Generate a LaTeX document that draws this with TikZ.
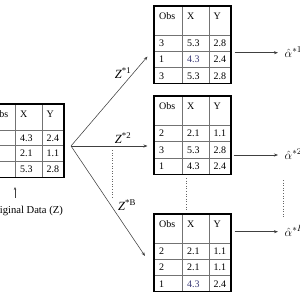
\documentclass[tikz,border=0pt]{standalone}
\usepackage{fontspec}
\setmainfont{Liberation Serif}
\usetikzlibrary{arrows.meta}
\definecolor{bluish}{RGB}{60,60,120}
\tikzset{
  tabframe/.style={draw=black, line width=1.1pt, inner sep=0pt, minimum width=77pt},
  tabinner/.style={draw=black!55, line width=0.6pt},
  cell/.style={anchor=base west, inner sep=0pt, font=\fontsize{10}{12}\selectfont},
  arr/.style={draw=black!75, line width=0.55pt, -{Stealth[length=4pt,width=3pt]}},
  dots/.style={draw=black!60, line width=0.7pt, dash pattern=on 0.8pt off 1.8pt},
  zlab/.style={inner sep=0pt, font=\fontsize{12.5}{14}\selectfont},
  alab/.style={anchor=base west, inner sep=0pt, font=\fontsize{13}{15}\selectfont},
}
% #1 name, #2 left, #3 top, #4 header height, #5 row height, #6 rows
\newcommand\btab[6]{%
  \begin{scope}[shift={(#2,#3)}]
    \pgfmathsetmacro\tabH{#4+3*#5}
    \draw[tabinner] (28,0) -- (28,\tabH) (55,0) -- (55,\tabH);
    \foreach \k in {0,1,2} \draw[tabinner] (0,{#4+\k*#5}) -- (77,{#4+\k*#5});
    \node[tabframe, minimum height=\tabH pt] (#1) at (38.5,{\tabH/2}) {};
    \node[cell] (#1-ho) at (5,13.5) {Obs};
    \node[cell] (#1-hx) at (33,13.5) {X};
    \node[cell] (#1-hy) at (59.5,13.5) {Y};
    \foreach \ov/\xv/\yv [count=\i] in {#6} {
      \node[cell] (#1-\i-o) at (5,{#4+(\i-0.5)*#5+3.4}) {\ov};
      \node[cell] (#1-\i-x) at (33,{#4+(\i-0.5)*#5+3.4}) {\xv};
      \node[cell] (#1-\i-y) at (59.5,{#4+(\i-0.5)*#5+3.4}) {\yv};
    }
  \end{scope}}
\begin{document}
\begin{tikzpicture}[x=1pt,y=-1pt]
\useasboundingbox (0,0) rectangle (300,300);
\clip (0,0) rectangle (300,300);
\fill[white] (0,0) rectangle (300,300);

% tables
\btab{orig}{-13}{104}{26}{15.7}{{}/4.3/2.4,{}/2.1/1.1,{}/5.3/2.8}
\btab{t1}{154}{6}{29}{16.3}{3/5.3/2.8,1/\textcolor{bluish}{4.3}/2.4,3/5.3/2.8}
\btab{t2}{154}{96}{29}{16.5}{2/2.1/1.1,3/5.3/2.8,1/4.3/2.4}
\btab{t3}{154}{214}{29}{16.3}{2/2.1/1.1,2/2.1/1.1,1/\textcolor{bluish}{4.3}/2.4}

% original data label
\node[cell, anchor=base east, font=\fontsize{10.6}{12}\selectfont] (olab) at (63,213) {Original Data (Z)};
\coordinate (otail) at (15,197.5);
\coordinate (ohead) at (15,187);
\draw[draw=black!75, line width=0.55pt, -{Stealth[length=3pt,width=2.4pt]}] (otail) -- (ohead);

% fan of arrows
\coordinate (apex) at (71,146);
\coordinate (e1) at (147.5,56.5);
\coordinate (e2) at (147.5,146);
\coordinate (e3) at (145,256);
\draw[arr] (apex) -- (e1);
\draw[arr] (apex) -- (e2);
\draw[arr] (apex) -- (e3);

\node[zlab] (z1) at (123,73) {\textit{Z}\textsuperscript{*1}};
\node[zlab] (z2) at (123,138) {\textit{Z}\textsuperscript{*2}};
\node[zlab] (zb) at (127,205) {\textit{Z}\textsuperscript{*B}};

% alpha estimates
\node[alab] (a1) at (284.5,57) {$\hat{\alpha}^{*1}$};
\node[alab] (a2) at (284.5,159.3) {$\hat{\alpha}^{*2}$};
\node[alab] (ab) at (284.5,236) {$\hat{\alpha}^{*B}$};

\draw[arr] ([xshift=3pt]t1.east |- 0,52.7) -- ([xshift=-6.5pt]a1.west |- 0,52.7);
\draw[arr] ([xshift=2pt]t2.east |- 0,155) -- ([xshift=-6.5pt]a2.west |- 0,155);
\draw[arr] ([xshift=3pt]t3.east |- 0,231.7) -- ([xshift=-6.5pt]ab.west |- 0,231.7);

% dotted continuation lines
\coordinate (d1a) at (112,150);  \coordinate (d1b) at (112,197);
\coordinate (d2a) at (186.5,178); \coordinate (d2b) at (186.5,210);
\coordinate (d3a) at (283,180);  \coordinate (d3b) at (283,218);
\draw[dots] (d1a) -- (d1b);
\draw[dots] (d2a) -- (d2b);
\draw[dots] (d3a) -- (d3b);
\end{tikzpicture}
\end{document}
